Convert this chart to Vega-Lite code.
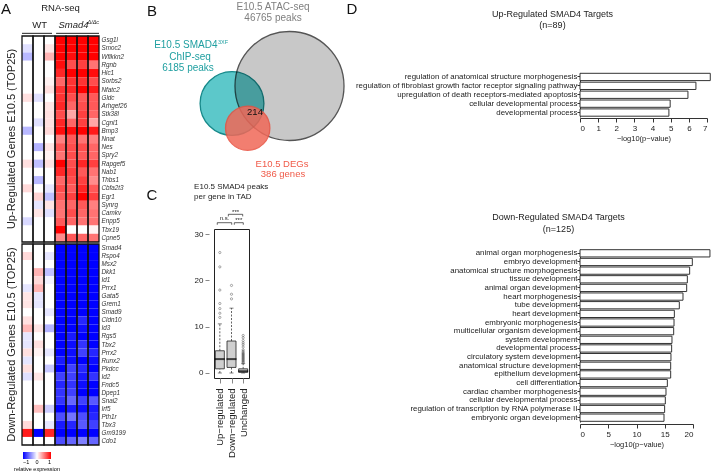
{
  "$schema": "https://vega.github.io/schema/vega-lite/v6.json",
  "padding": {"left": 1, "top": 1, "right": 0, "bottom": 0},
  "bounds": "flush",
  "spacing": 192,
  "datasets": {
    "up": [
      {"gene":"Gsg1l","WT1":0,"WT2":0,"WT3":0,"KO1":1,"KO2":1,"KO3":1,"KO4":1},
      {"gene":"Smoc2","WT1":-0.12,"WT2":0,"WT3":0.1,"KO1":1,"KO2":1,"KO3":1,"KO4":1},
      {"gene":"Wfikkn2","WT1":-0.28,"WT2":0,"WT3":0.3,"KO1":1,"KO2":0.95,"KO3":1,"KO4":1},
      {"gene":"Rgnb","WT1":0,"WT2":0,"WT3":0,"KO1":0.95,"KO2":0.7,"KO3":0.75,"KO4":0.55},
      {"gene":"Hic1","WT1":0,"WT2":0,"WT3":0,"KO1":0.85,"KO2":1,"KO3":1,"KO4":0.95},
      {"gene":"Sorbs2","WT1":0,"WT2":0,"WT3":0.05,"KO1":0.6,"KO2":0.8,"KO3":0.8,"KO4":0.7},
      {"gene":"Nfatc2","WT1":0,"WT2":0,"WT3":0.12,"KO1":0.8,"KO2":0.85,"KO3":1,"KO4":0.9},
      {"gene":"Gldc","WT1":0.12,"WT2":-0.12,"WT3":0,"KO1":0.8,"KO2":0.7,"KO3":0.65,"KO4":0.65},
      {"gene":"Arhgef26","WT1":0,"WT2":0,"WT3":0.1,"KO1":0.85,"KO2":0.6,"KO3":0.7,"KO4":0.65},
      {"gene":"Stk38l","WT1":0,"WT2":0,"WT3":0.12,"KO1":0.7,"KO2":0.35,"KO3":0.75,"KO4":0.6},
      {"gene":"Cgnl1","WT1":0,"WT2":-0.12,"WT3":0.12,"KO1":0.85,"KO2":0.6,"KO3":0.75,"KO4":0.35},
      {"gene":"Bmp3","WT1":-0.28,"WT2":0,"WT3":0.15,"KO1":0.95,"KO2":0.95,"KO3":1,"KO4":0.9},
      {"gene":"Nnat","WT1":0,"WT2":0,"WT3":0,"KO1":0.5,"KO2":0.65,"KO3":0.55,"KO4":0.5},
      {"gene":"Nes","WT1":0,"WT2":-0.3,"WT3":0.1,"KO1":0.65,"KO2":0.7,"KO3":0.7,"KO4":0.6},
      {"gene":"Spry2","WT1":0,"WT2":0,"WT3":0.05,"KO1":0.55,"KO2":0.7,"KO3":0.65,"KO4":0.6},
      {"gene":"Rapgef5","WT1":0.12,"WT2":-0.25,"WT3":0.12,"KO1":1,"KO2":0.7,"KO3":0.85,"KO4":0.75},
      {"gene":"Nab1","WT1":0,"WT2":0,"WT3":0,"KO1":0.85,"KO2":0.75,"KO3":0.65,"KO4":0.55},
      {"gene":"Thbs1","WT1":0,"WT2":-0.28,"WT3":0,"KO1":0.6,"KO2":0.7,"KO3":0.75,"KO4":0.45},
      {"gene":"Cbfa2t3","WT1":0.15,"WT2":0,"WT3":-0.1,"KO1":0.7,"KO2":0.65,"KO3":0.85,"KO4":0.65},
      {"gene":"Egr1","WT1":0,"WT2":0.18,"WT3":-0.25,"KO1":0.65,"KO2":0.75,"KO3":1,"KO4":0.75},
      {"gene":"Synrg","WT1":0,"WT2":-0.1,"WT3":0.1,"KO1":0.55,"KO2":0.6,"KO3":0.65,"KO4":0.5},
      {"gene":"Camkv","WT1":0,"WT2":0.1,"WT3":-0.12,"KO1":0.55,"KO2":0.7,"KO3":0.6,"KO4":0.55},
      {"gene":"Enpp5","WT1":-0.15,"WT2":0,"WT3":0,"KO1":0.65,"KO2":0.6,"KO3":0.55,"KO4":0.55},
      {"gene":"Tbx19","WT1":0,"WT2":0,"WT3":0,"KO1":1,"KO2":0,"KO3":0,"KO4":0.05},
      {"gene":"Cpne5","WT1":0,"WT2":0,"WT3":0,"KO1":0.45,"KO2":0.65,"KO3":0.6,"KO4":0.55}
    ],
    "down": [
      {"gene":"Smad4","WT1":0,"WT2":0,"WT3":0,"KO1":-1,"KO2":-1,"KO3":-1,"KO4":-1},
      {"gene":"Rspo4","WT1":0.15,"WT2":0,"WT3":-0.1,"KO1":-1,"KO2":-1,"KO3":-1,"KO4":-1},
      {"gene":"Msx2","WT1":0,"WT2":0,"WT3":0,"KO1":-1,"KO2":-1,"KO3":-1,"KO4":-1},
      {"gene":"Dkk1","WT1":0,"WT2":0.3,"WT3":-0.25,"KO1":-1,"KO2":-1,"KO3":-1,"KO4":-1},
      {"gene":"Id1","WT1":0,"WT2":0.15,"WT3":-0.05,"KO1":-1,"KO2":-1,"KO3":-1,"KO4":-1},
      {"gene":"Prrx1","WT1":-0.1,"WT2":0.3,"WT3":0,"KO1":-1,"KO2":-1,"KO3":-1,"KO4":-1},
      {"gene":"Gata5","WT1":0.1,"WT2":-0.1,"WT3":0,"KO1":-1,"KO2":-1,"KO3":-1,"KO4":-1},
      {"gene":"Grem1","WT1":0.1,"WT2":-0.1,"WT3":0,"KO1":-1,"KO2":-1,"KO3":-1,"KO4":-1},
      {"gene":"Smad9","WT1":0,"WT2":0,"WT3":-0.1,"KO1":-1,"KO2":-1,"KO3":-1,"KO4":-1},
      {"gene":"Cldn10","WT1":0.12,"WT2":0,"WT3":0,"KO1":-1,"KO2":-1,"KO3":-0.85,"KO4":-1},
      {"gene":"Id3","WT1":0.28,"WT2":0.1,"WT3":-0.3,"KO1":-1,"KO2":-1,"KO3":-0.95,"KO4":-1},
      {"gene":"Rgs5","WT1":-0.1,"WT2":0,"WT3":0,"KO1":-1,"KO2":-0.9,"KO3":-1,"KO4":-1},
      {"gene":"Tbx2","WT1":-0.1,"WT2":0.12,"WT3":0,"KO1":-1,"KO2":-0.95,"KO3":-0.8,"KO4":-1},
      {"gene":"Prrx2","WT1":0.12,"WT2":0.05,"WT3":-0.1,"KO1":-1,"KO2":-0.95,"KO3":-0.75,"KO4":-0.85},
      {"gene":"Runx2","WT1":-0.1,"WT2":0,"WT3":0,"KO1":-0.9,"KO2":-0.95,"KO3":-1,"KO4":-0.95},
      {"gene":"Pkdcc","WT1":0.12,"WT2":0,"WT3":-0.22,"KO1":-1,"KO2":-0.75,"KO3":-0.85,"KO4":-1},
      {"gene":"Id2","WT1":-0.12,"WT2":0.1,"WT3":0,"KO1":-0.75,"KO2":-0.75,"KO3":-0.9,"KO4":-0.8},
      {"gene":"Fndc5","WT1":0,"WT2":0,"WT3":0,"KO1":-0.85,"KO2":-0.8,"KO3":-0.95,"KO4":-1},
      {"gene":"Dpep1","WT1":0,"WT2":0,"WT3":0,"KO1":-0.8,"KO2":-0.75,"KO3":-1,"KO4":-1},
      {"gene":"Snai2","WT1":0,"WT2":0,"WT3":0,"KO1":-0.8,"KO2":-0.6,"KO3":-0.75,"KO4":-0.65},
      {"gene":"Irf5","WT1":0,"WT2":0.25,"WT3":-0.2,"KO1":-1,"KO2":-0.9,"KO3":-0.95,"KO4":-0.9},
      {"gene":"Pth1r","WT1":0,"WT2":0,"WT3":0,"KO1":-0.7,"KO2":-0.55,"KO3":-0.7,"KO4":-0.85},
      {"gene":"Tbx3","WT1":0.15,"WT2":0,"WT3":-0.1,"KO1":-0.9,"KO2":-0.85,"KO3":-0.65,"KO4":-0.75},
      {"gene":"Gm9199","WT1":0.9,"WT2":-1,"WT3":0.85,"KO1":-1,"KO2":-1,"KO3":-1,"KO4":-1},
      {"gene":"Cdo1","WT1":0,"WT2":0,"WT3":0,"KO1":-0.7,"KO2":-0.6,"KO3":-0.5,"KO4":-0.6}
    ],
    "samples": [{"sample":"WT1"},{"sample":"WT2"},{"sample":"WT3"},{"sample":"KO1"},{"sample":"KO2"},{"sample":"KO3"},{"sample":"KO4"}],
    "box": [
      {"g":1,"lo":0,"q1":0.9,"med":3.0,"q3":4.8,"hi":10.6},
      {"g":2,"lo":0,"q1":1.2,"med":3.0,"q3":6.9,"hi":14.0},
      {"g":3,"lo":0,"q1":0.15,"med":0.4,"q3":0.9,"hi":2.0}
    ],
    "out": [
      {"g":1,"v":12.0},{"g":1,"v":12.9},{"g":1,"v":13.9},{"g":1,"v":15.0},{"g":1,"v":17.9},{"g":1,"v":22.9},{"g":1,"v":26.0},
      {"g":2,"v":16.0},{"g":2,"v":17.0},{"g":2,"v":18.9},
      {"g":3,"v":2.2},{"g":3,"v":2.4},{"g":3,"v":2.6},{"g":3,"v":2.8},{"g":3,"v":3.0},{"g":3,"v":3.2},{"g":3,"v":3.4},{"g":3,"v":3.6},{"g":3,"v":3.8},{"g":3,"v":4.0},{"g":3,"v":4.2},{"g":3,"v":4.4},{"g":3,"v":4.7},{"g":3,"v":5.0},{"g":3,"v":5.6},{"g":3,"v":6.1},{"g":3,"v":6.5},{"g":3,"v":7.0},{"g":3,"v":7.6},{"g":3,"v":8.1}
    ],
    "br": [
      {"x1":0.78,"x2":2.02,"y":32.44,"yl":32.0,"tx":1.4,"ty":32.95,"t":"n.s."},
      {"x1":2.24,"x2":3.01,"y":32.44,"yl":32.0,"tx":2.62,"ty":32.55,"t":"***"},
      {"x1":1.73,"x2":2.96,"y":34.25,"yl":33.8,"tx":2.35,"ty":34.35,"t":"***"}
    ],
    "d1": [
      {"term":"regulation of anatomical structure morphogenesis","p":7.18},
      {"term":"regulation of fibroblast growth factor receptor signaling pathway","p":6.39},
      {"term":"upregulation of death receptors-mediated apoptosis","p":5.95},
      {"term":"cellular developmental process","p":4.97},
      {"term":"developmental process","p":4.9}
    ],
    "d2": [
      {"term":"animal organ morphogenesis","p":23.0},
      {"term":"embryo development","p":19.88},
      {"term":"anatomical structure morphogenesis","p":19.41},
      {"term":"tissue development","p":19.0},
      {"term":"animal organ development","p":18.88},
      {"term":"heart morphogenesis","p":18.23},
      {"term":"tube development","p":17.58},
      {"term":"heart development","p":16.7},
      {"term":"embryonic morphogenesis","p":16.64},
      {"term":"multicellular organism development","p":16.58},
      {"term":"system development","p":16.28},
      {"term":"developmental process","p":16.22},
      {"term":"circulatory system development","p":16.1},
      {"term":"anatomical structure development","p":16.05},
      {"term":"epithelium development","p":16.05},
      {"term":"cell differentiation","p":15.46},
      {"term":"cardiac chamber morphogenesis","p":15.22},
      {"term":"cellular developmental process","p":15.1},
      {"term":"regulation of transcription by RNA polymerase II","p":14.98},
      {"term":"embryonic organ development","p":14.87}
    ]
  },
  "hconcat": [
    {
      "vconcat": [
        {
          "width": 77, "height": 33,
          "layer": [
            {"data": {"values": [{"x":0,"x2":2.73,"y":0.2},{"x":3.1,"x2":7,"y":0.2}]},
             "mark": {"type":"rule","color":"#222","strokeWidth":1},
             "encoding": {"x":{"field":"x","type":"quantitative","scale":{"domain":[0,7],"nice":false,"zero":false},"axis":null},
                          "x2":{"field":"x2"},
                          "y":{"field":"y","type":"quantitative","scale":{"domain":[0,10],"nice":false},"axis":null}}},
            {"data": {"values": [{"t":"A","x":-1.45,"y":7.6}]},
             "mark": {"type":"text","fontSize":15,"color":"#111"},
             "encoding": {"x":{"field":"x","type":"quantitative"},"y":{"field":"y","type":"quantitative"},"text":{"field":"t"}}},
            {"data": {"values": [{"t":"RNA-seq","x":3.5,"y":8},{"t":"WT","x":1.6,"y":2.6}]},
             "mark": {"type":"text","fontSize":9.5,"color":"#222"},
             "encoding": {"x":{"field":"x","type":"quantitative"},"y":{"field":"y","type":"quantitative"},"text":{"field":"t"}}},
            {"data": {"values": [{"t":"Smad4","x":3.32,"y":2.6}]},
             "mark": {"type":"text","fontSize":9.5,"fontStyle":"italic","align":"left","color":"#222"},
             "encoding": {"x":{"field":"x","type":"quantitative"},"y":{"field":"y","type":"quantitative"},"text":{"field":"t"}}},
            {"data": {"values": [{"t":"Δ/Δc","x":5.95,"y":3.5}]},
             "mark": {"type":"text","fontSize":5.5,"fontStyle":"italic","align":"left","color":"#222"},
             "encoding": {"x":{"field":"x","type":"quantitative"},"y":{"field":"y","type":"quantitative"},"text":{"field":"t"}}}
          ]
        },
        {
          "width": 77, "height": 206,
          "title": {"text":"Up-Regulated Genes E10.5 (TOP25)","orient":"left","fontSize":11,"offset":4,"fontWeight":"normal","color":"#222"},
          "layer": [
            {"data": {"name":"up"},
             "transform": [{"fold":["WT1","WT2","WT3","KO1","KO2","KO3","KO4"],"as":["sample","v"]}],
             "mark": {"type":"rect"},
             "encoding": {
               "x":{"field":"sample","type":"nominal","sort":["WT1","WT2","WT3","KO1","KO2","KO3","KO4"],"scale":{"paddingInner":0,"paddingOuter":0},"axis":null},
               "y":{"field":"gene","type":"nominal","sort":null,"axis":{"orient":"right","title":null,"labelFontStyle":"italic","labelFontSize":6.3,"ticks":false,"domain":false,"labelPadding":2,"labelColor":"#333"}},
               "color":{"field":"v","type":"quantitative","scale":{"type":"linear","domain":[-1,0,1],"range":["#0000ff","#ffffff","#ff0000"],"interpolate":"rgb"},
                        "legend":{"orient":"none","legendX":-8,"legendY":451,"direction":"horizontal","gradientLength":28,"gradientThickness":7,"title":"relative expression","titleOrient":"bottom","titleFontSize":5.5,"titleFontWeight":"normal","labelFontSize":5.5,"values":[-1,0,1],"gradientStrokeWidth":0,"titlePadding":1,"labelOffset":1,"titleAnchor":"middle"}}
             }},
            {"data": {"name":"samples"},
             "mark": {"type":"rect","filled":false,"color":"#111","strokeWidth":1.3},
             "encoding": {"x":{"field":"sample","type":"nominal","sort":["WT1","WT2","WT3","KO1","KO2","KO3","KO4"]}}}
          ]
        },
        {
          "width": 77, "height": 201,
          "title": {"text":"Down-Regulated Genes E10.5 (TOP25)","orient":"left","fontSize":11,"offset":4,"fontWeight":"normal","color":"#222"},
          "layer": [
            {"data": {"name":"down"},
             "transform": [{"fold":["WT1","WT2","WT3","KO1","KO2","KO3","KO4"],"as":["sample","v"]}],
             "mark": {"type":"rect"},
             "encoding": {
               "x":{"field":"sample","type":"nominal","sort":["WT1","WT2","WT3","KO1","KO2","KO3","KO4"],"scale":{"paddingInner":0,"paddingOuter":0},"axis":null},
               "y":{"field":"gene","type":"nominal","sort":null,"axis":{"orient":"right","title":null,"labelFontStyle":"italic","labelFontSize":6.3,"ticks":false,"domain":false,"labelPadding":2,"labelColor":"#333"}},
               "color":{"field":"v","type":"quantitative","scale":{"type":"linear","domain":[-1,0,1],"range":["#0000ff","#ffffff","#ff0000"],"interpolate":"rgb"},
                        "legend":{"orient":"none","legendX":-8,"legendY":451,"direction":"horizontal","gradientLength":28,"gradientThickness":7,"title":"relative expression","titleOrient":"bottom","titleFontSize":5.5,"titleFontWeight":"normal","labelFontSize":5.5,"values":[-1,0,1],"gradientStrokeWidth":0,"titlePadding":1,"labelOffset":1,"titleAnchor":"middle"}}
             }},
            {"data": {"name":"samples"},
             "mark": {"type":"rect","filled":false,"color":"#111","strokeWidth":1.3},
             "encoding": {"x":{"field":"sample","type":"nominal","sort":["WT1","WT2","WT3","KO1","KO2","KO3","KO4"]}}}
          ]
        }
      ],
      "spacing": 2,
      "bounds": "flush"
    },
    {
      "hconcat": [
        {
          "vconcat": [
            {
              "width": 35, "height": 175,
              "layer": [
                {"data": {"values": [{"set":"ATAC","x":75.5,"y":85,"r":61.5}]},
                 "mark": {"type":"point","filled":true,"fill":"#c8c8c8","stroke":"#555555","strokeWidth":1.3,"opacity":1},
                 "encoding": {"x":{"field":"x","type":"quantitative","scale":{"domain":[0,35],"nice":false,"zero":false},"axis":null},
                              "y":{"field":"y","type":"quantitative","scale":{"domain":[0,175],"nice":false,"zero":false,"reverse":true},"axis":null},
                              "size":{"field":"r","type":"quantitative","scale":{"type":"pow","exponent":2,"domain":[0,100],"range":[0,31415.9]},"legend":null}}},
                {"data": {"values": [{"set":"ChIP","x":18,"y":102.5,"r":36}]},
                 "mark": {"type":"point","filled":true,"fill":"#5cc8ca","stroke":"#17898a","strokeWidth":1.3,"opacity":1,"blend":"multiply"},
                 "encoding": {"x":{"field":"x","type":"quantitative"},"y":{"field":"y","type":"quantitative"},"size":{"field":"r","type":"quantitative","legend":null}}},
                {"data": {"values": [{"set":"DEG","x":33.7,"y":127.2,"r":25}]},
                 "mark": {"type":"point","filled":true,"fill":"#f06858","stroke":"#e8503f","strokeWidth":1.3,"opacity":0.85},
                 "encoding": {"x":{"field":"x","type":"quantitative"},"y":{"field":"y","type":"quantitative"},"size":{"field":"r","type":"quantitative","legend":null}}},
                {"data": {"values": [{"t":"E10.5 ATAC-seq","x":59,"y":6},{"t":"46765 peaks","x":59,"y":17}]},
                 "mark": {"type":"text","fontSize":10,"color":"#7f7f7f"},
                 "encoding": {"x":{"field":"x","type":"quantitative"},"y":{"field":"y","type":"quantitative"},"text":{"field":"t"}}},
                {"data": {"values": [{"t":"E10.5 SMAD4","x":3.5,"y":44}]},
                 "mark": {"type":"text","fontSize":10,"color":"#1f9fa0","align":"right"},
                 "encoding": {"x":{"field":"x","type":"quantitative"},"y":{"field":"y","type":"quantitative"},"text":{"field":"t"}}},
                {"data": {"values": [{"t":"3XF","x":4,"y":40.5}]},
                 "mark": {"type":"text","fontSize":5.5,"color":"#1f9fa0","align":"left"},
                 "encoding": {"x":{"field":"x","type":"quantitative"},"y":{"field":"y","type":"quantitative"},"text":{"field":"t"}}},
                {"data": {"values": [{"t":"ChIP-seq","x":-24,"y":56},{"t":"6185 peaks","x":-26,"y":67}]},
                 "mark": {"type":"text","fontSize":10,"color":"#1f9fa0"},
                 "encoding": {"x":{"field":"x","type":"quantitative"},"y":{"field":"y","type":"quantitative"},"text":{"field":"t"}}},
                {"data": {"values": [{"t":"E10.5 DEGs","x":68,"y":162.5},{"t":"386 genes","x":69,"y":173}]},
                 "mark": {"type":"text","fontSize":9.5,"color":"#f05a48"},
                 "encoding": {"x":{"field":"x","type":"quantitative"},"y":{"field":"y","type":"quantitative"},"text":{"field":"t"}}},
                {"data": {"values": [{"t":"214","x":41,"y":111}]},
                 "mark": {"type":"text","fontSize":9.5,"color":"#111"},
                 "encoding": {"x":{"field":"x","type":"quantitative"},"y":{"field":"y","type":"quantitative"},"text":{"field":"t"}}},
                {"data": {"values": [{"t":"B","x":-62,"y":10},{"t":"C","x":-62,"y":194},{"t":"D","x":138,"y":8}]},
                 "mark": {"type":"text","fontSize":15,"color":"#111"},
                 "encoding": {"x":{"field":"x","type":"quantitative"},"y":{"field":"y","type":"quantitative"},"text":{"field":"t"}}}
              ]
            },
            {
              "width": 35, "height": 149,
              "view": {"stroke":"#222","strokeWidth":1},
              "title": {"text":["E10.5 SMAD4 peaks","per gene in TAD"],"anchor":"start","frame":"bounds","fontSize":8,"lineHeight":10,"offset":8,"fontWeight":"normal","color":"#222"},
              "resolve": {"scale": {"x": "independent"}, "axis": {"x": "independent"}},
              "layer": [
                {
                  "layer": [
                    {"data": {"name":"box"},
                     "mark": {"type":"rule","strokeDash":[2,1.5],"strokeWidth":0.7,"color":"#222"},
                     "encoding": {
                       "x":{"field":"g","type":"ordinal","scale":{"type":"point","padding":0.5},
                            "axis":{"labelExpr":"datum.value == 1 ? 'Up−regulated' : (datum.value == 2 ? 'Down−regulated' : 'Unchanged')","labelAngle":270,"labelOverlap":false,"domain":false,"tickSize":5,"labelFontSize":9.5,"labelPadding":5,"title":null,"grid":false,"labelColor":"#222"}},
                       "y":{"field":"q3","type":"quantitative","scale":{"domain":[-1.08,31.08],"nice":false,"zero":false},
                            "axis":{"values":[0,5,10,15,20,25,30],"domain":false,"tickSize":4,"offset":5,"labelFontSize":8,"labelPadding":2,"title":null,"grid":false,"labelColor":"#222"}},
                       "y2":{"field":"hi"}}},
                    {"data": {"name":"box"},
                     "mark": {"type":"rule","strokeDash":[2,1.5],"strokeWidth":0.7,"color":"#222"},
                     "encoding": {"x":{"field":"g","type":"ordinal"},"y":{"field":"lo","type":"quantitative"},"y2":{"field":"q1"}}},
                    {"data": {"name":"box"},
                     "mark": {"type":"tick","orient":"horizontal","size":4,"thickness":0.8,"color":"#222"},
                     "encoding": {"x":{"field":"g","type":"ordinal"},"y":{"field":"hi","type":"quantitative"}}},
                    {"data": {"name":"box"},
                     "mark": {"type":"tick","orient":"horizontal","size":4,"thickness":0.8,"color":"#222"},
                     "encoding": {"x":{"field":"g","type":"ordinal"},"y":{"field":"lo","type":"quantitative"}}},
                    {"data": {"name":"out"},
                     "mark": {"type":"point","filled":false,"size":5,"strokeWidth":0.6,"color":"#333"},
                     "encoding": {"x":{"field":"g","type":"ordinal"},"y":{"field":"v","type":"quantitative"}}},
                    {"data": {"name":"box"},
                     "mark": {"type":"bar","size":9,"fill":"#cfcfcf","stroke":"#222","strokeWidth":0.8},
                     "encoding": {"x":{"field":"g","type":"ordinal"},"y":{"field":"q1","type":"quantitative"},"y2":{"field":"q3"}}},
                    {"data": {"name":"box"},
                     "mark": {"type":"tick","orient":"horizontal","size":10,"thickness":2,"color":"#000"},
                     "encoding": {"x":{"field":"g","type":"ordinal"},"y":{"field":"med","type":"quantitative"}}}
                  ]
                },
                {
                  "layer": [
                    {"data": {"name":"br"},
                     "mark": {"type":"rule","strokeWidth":0.7,"color":"#222"},
                     "encoding": {"x":{"field":"x1","type":"quantitative","scale":{"domain":[0.5,3.5],"nice":false,"zero":false},"axis":null},"x2":{"field":"x2"},"y":{"field":"y","type":"quantitative"}}},
                    {"data": {"name":"br"},
                     "mark": {"type":"rule","strokeWidth":0.7,"color":"#222"},
                     "encoding": {"x":{"field":"x1","type":"quantitative","axis":null},"y":{"field":"yl","type":"quantitative"},"y2":{"field":"y"}}},
                    {"data": {"name":"br"},
                     "mark": {"type":"rule","strokeWidth":0.7,"color":"#222"},
                     "encoding": {"x":{"field":"x2","type":"quantitative","axis":null},"y":{"field":"yl","type":"quantitative"},"y2":{"field":"y"}}},
                    {"data": {"name":"br"},
                     "mark": {"type":"text","fontSize":6,"baseline":"alphabetic","color":"#222"},
                     "encoding": {"x":{"field":"tx","type":"quantitative","axis":null},"y":{"field":"ty","type":"quantitative"},"text":{"field":"t"}}}
                  ]
                }
              ]
            }
          ],
          "spacing": 53,
          "bounds": "flush"
        },
        {
          "vconcat": [
            {
              "width": 127, "height": 116,
              "title": {"text":["Up-Regulated SMAD4 Targets","(n=89)"],"fontSize":9,"lineHeight":11.5,"offset":-29,"dx":-91,"anchor":"middle","fontWeight":"normal","color":"#222"},
              "data": {"name":"d1"},
              "mark": {"type":"bar","fill":"#ffffff","stroke":"#333","strokeWidth":1},
              "encoding": {
                "y":{"field":"term","type":"nominal","sort":null,"scale":{"paddingInner":0.18,"paddingOuter":0.09,"range":[71.5,116]},
                     "axis":{"title":null,"labelFontSize":7.9,"labelLimit":400,"tickSize":3,"labelPadding":0,"labelColor":"#222","domainColor":"#333","tickColor":"#333"}},
                "x":{"field":"p","type":"quantitative","scale":{"domain":[0,7],"nice":false},
                     "axis":{"values":[0,1,2,3,4,5,6,7],"title":"−log10(p−value)","titleFontSize":7.5,"titleFontWeight":"normal","labelFontSize":8,"tickSize":4,"offset":1,"titlePadding":2,"grid":false,"labelColor":"#222","titleColor":"#222","domainColor":"#333","tickColor":"#333"}}
              }
            },
            {
              "width": 113, "height": 173,
              "title": {"text":["Down-Regulated SMAD4 Targets","(n=125)"],"fontSize":9,"lineHeight":11.5,"offset":15,"dx":-78,"anchor":"middle","fontWeight":"normal","color":"#222"},
              "data": {"name":"d2"},
              "mark": {"type":"bar","fill":"#ffffff","stroke":"#333","strokeWidth":1},
              "encoding": {
                "y":{"field":"term","type":"nominal","sort":null,"scale":{"paddingInner":0.16,"paddingOuter":0.08},
                     "axis":{"title":null,"labelFontSize":7.9,"labelLimit":400,"tickSize":3,"labelPadding":0,"labelColor":"#222","domainColor":"#333","tickColor":"#333"}},
                "x":{"field":"p","type":"quantitative","scale":{"domain":[0,20],"nice":false},
                     "axis":{"values":[0,5,10,15,20],"title":"−log10(p−value)","titleFontSize":7.5,"titleFontWeight":"normal","labelFontSize":8,"tickSize":4,"offset":2,"titlePadding":2,"grid":false,"labelColor":"#222","titleColor":"#222","domainColor":"#333","tickColor":"#333"}}
              }
            }
          ],
          "spacing": 132,
          "bounds": "flush"
        }
      ],
      "spacing": 366,
      "bounds": "flush"
    }
  ],
  "config": {
    "font": "Liberation Sans",
    "view": {"stroke": null},
    "axis": {"grid": false, "labelOverlap": false},
    "title": {"fontWeight": "normal"}
  }
}
